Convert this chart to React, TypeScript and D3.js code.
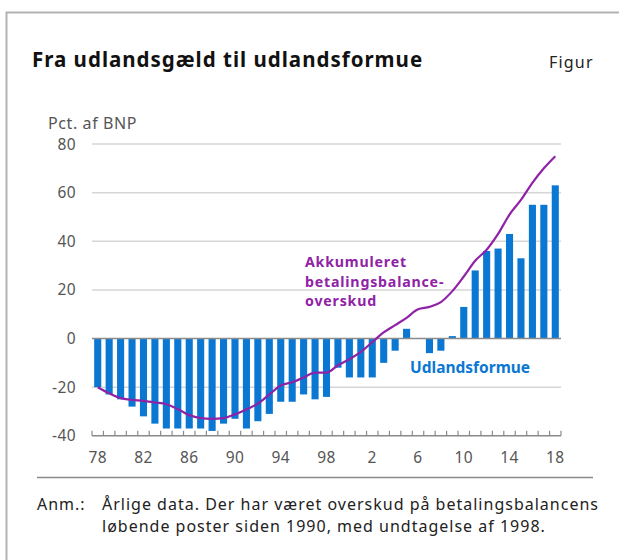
import React from 'react';
import * as d3 from 'd3';

// years 1978-2018
const years = d3.range(1978, 2019);

// Udlandsformue, pct. af BNP (bars)
const formue = [
  -20, -23, -25, -28, -32, -35, -37, -37, -37, -37, -38, -35, -33, -37, -34, -31,
  -26, -26, -23, -25, -24, -12, -16, -16, -16, -10, -5, 4, 0, -6, -5, 1, 13, 28,
  36, 37, 43, 33, 55, 55, 63,
];

// Akkumuleret betalingsbalanceoverskud (line)
const akkum = [
  -20, -22.5, -24.5, -25.2, -25.6, -26.3, -27, -29, -31.5, -32.7, -33, -32.7,
  -31.2, -29.2, -26.8, -23, -19.3, -18, -16, -14, -14, -11, -8.5, -5.5, -1.5,
  2.5, 5.5, 8.5, 12, 13, 15, 19.5, 25.5, 32, 36.5, 43, 51, 57, 64, 70, 75,
];

const yTicks = [80, 60, 40, 20, 0, -20, -40];
const labelYears = [1978, 1982, 1986, 1990, 1994, 1998, 2002, 2006, 2010, 2014, 2018];
const lineLabel = ['Akkumuleret', 'betalingsbalance-', 'overskud'];

const font = "'Noto Sans', 'Open Sans', sans-serif";
const blue = '#0a78d2';
const purple = '#8f22a6';

export default function App() {
  const x = d3
    .scaleBand<number>()
    .domain(years)
    .range([92, 561])
    .paddingInner(0.38)
    .paddingOuter(0.19);
  const y = d3.scaleLinear().domain([-40, 80]).range([435.8, 144]);
  const cx = (yr: number) => (x(yr) as number) + x.bandwidth() / 2;
  const step = x.step();
  const tickXs = d3.range(years.length + 1).map((i) => 92 + i * step);

  const line = d3
    .line<number>()
    .x((_, i) => cx(years[i]))
    .y((d) => y(d))
    .curve(d3.curveMonotoneX);

  return (
    <svg
      width={619}
      height={560}
      style={{ position: 'absolute', left: 0, top: 0 }}
      fontFamily={font}
    >
      <rect x={0} y={0} width={619} height={560} fill="#fff" />
      <path d="M6.5,580 V12.5 H640" fill="none" stroke="#b3b3b3" strokeWidth={2} />
      <text x={32} y={67} fontSize={20.5} fontWeight="bold" fill="#111" letterSpacing={1}>
        Fra udlandsgæld til udlandsformue
      </text>
      <text x={549} y={68} fontSize={16} fill="#222" letterSpacing={1.2}>
        Figur
      </text>
      <text x={48} y={129} fontSize={16} fill="#555" letterSpacing={0.6}>
        Pct. af BNP
      </text>

      {yTicks.map((t) => (
        <g key={t}>
          {t !== 0 && t !== -40 && (
            <line x1={92} x2={561} y1={y(t)} y2={y(t)} stroke="#d6d6d6" strokeWidth={1.5} />
          )}
          <text
            x={76}
            y={y(t)}
            dy="0.36em"
            textAnchor="end"
            fontSize={15.5}
            fill="#555"
            letterSpacing={0.4}
          >
            {t}
          </text>
        </g>
      ))}

      {years.map((yr, i) => {
        const v = formue[i];
        if (v === 0) return null;
        return (
          <rect
            key={yr}
            x={x(yr)}
            width={x.bandwidth()}
            y={Math.min(y(v), y(0))}
            height={Math.abs(y(v) - y(0))}
            fill={blue}
          />
        );
      })}

      <line x1={92} x2={561} y1={y(0)} y2={y(0)} stroke="#8a8a8a" strokeWidth={1.5} />
      <line x1={92} x2={561} y1={y(-40)} y2={y(-40)} stroke="#8a8a8a" strokeWidth={1.5} />
      {tickXs.map((tx, i) => (
        <line key={i} x1={tx} x2={tx} y1={y(-40)} y2={y(-40) - 5} stroke="#8a8a8a" strokeWidth={1.2} />
      ))}

      <path d={line(akkum) || ''} fill="none" stroke={purple} strokeWidth={2.2} />

      {labelYears.map((yr) => (
        <text key={yr} x={cx(yr)} y={463} textAnchor="middle" fontSize={15.5} fill="#555" letterSpacing={0.4}>
          {yr % 100}
        </text>
      ))}

      <text x={305} y={267} fontSize={14.2} fontWeight="bold" fill={purple} letterSpacing={0.8}>
        {lineLabel.map((s, i) => (
          <tspan key={s} x={305} dy={i === 0 ? 0 : 19.6}>
            {s}
          </tspan>
        ))}
      </text>
      <text x={410} y={373} fontSize={15.5} fontWeight="bold" fill={blue}>
        Udlandsformue
      </text>

      <line x1={37} x2={593} y1={477.5} y2={477.5} stroke="#8a8a8a" strokeWidth={1.5} />
      <g fontSize={16} fill="#222" letterSpacing={1}>
        <text x={37} y={510}>Anm.:</text>
        <text x={102} y={510}>Årlige data. Der har været overskud på betalingsbalancens</text>
        <text x={102} y={532}>løbende poster siden 1990, med undtagelse af 1998.</text>
      </g>
    </svg>
  );
}
